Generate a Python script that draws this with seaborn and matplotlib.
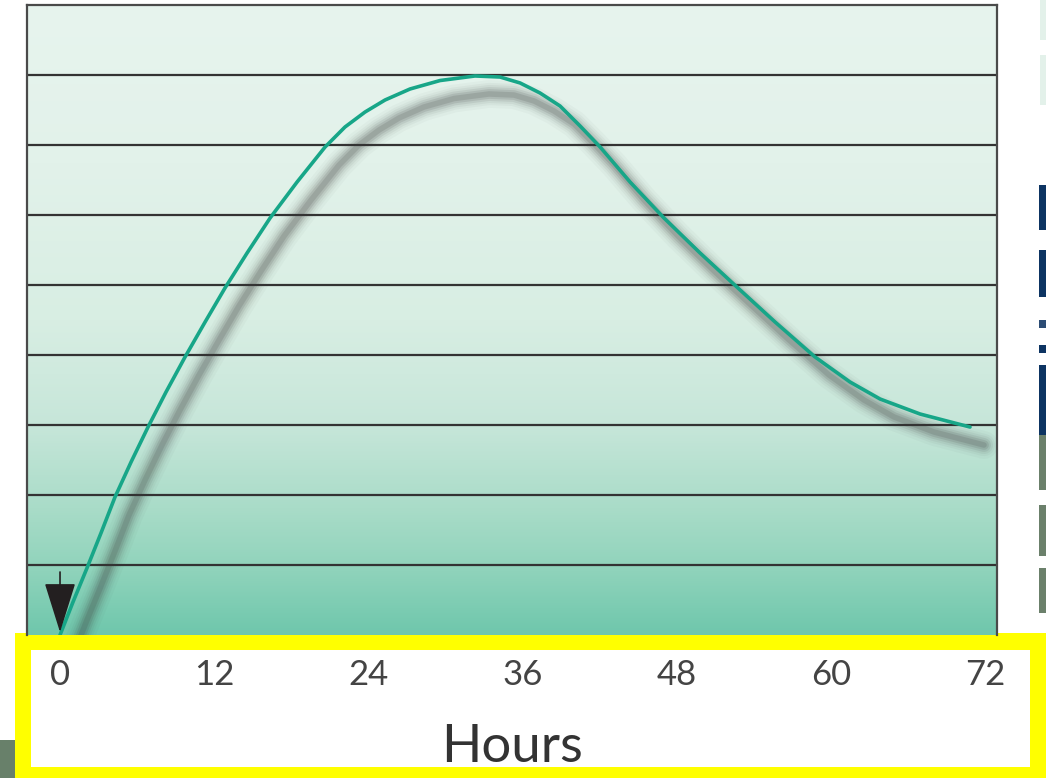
import numpy as np
import matplotlib
matplotlib.use("Agg")
import matplotlib.pyplot as plt
from matplotlib.colors import LinearSegmentedColormap
from matplotlib.patches import Rectangle
from matplotlib.transforms import ScaledTranslation
import seaborn as sns
import pandas as pd

# Concentration curve over time (hours, relative level)
hours = [0.0, 1.01, 2.10, 3.19, 4.28, 5.53, 6.85, 8.25, 9.73, 11.29, 12.84,
         14.56, 16.35, 18.45, 20.63, 22.18, 23.74, 25.30, 27.24, 29.58, 32.30,
         34.25, 35.81, 37.36, 38.92, 40.48, 42.04, 44.37, 47.01, 49.82, 52.77,
         55.66, 58.77, 61.49, 63.83, 66.94, 70.83]
level = [0.0, 0.471, 0.957, 1.457, 1.971, 2.471, 2.971, 3.471, 3.971, 4.471, 4.957,
         5.457, 5.957, 6.471, 6.971, 7.257, 7.471, 7.643, 7.800, 7.921, 7.986,
         7.971, 7.886, 7.743, 7.557, 7.271, 6.971, 6.471, 5.957, 5.457, 4.957,
         4.471, 3.971, 3.614, 3.371, 3.157, 2.971]
tick_hours = [0, 12, 24, 36, 48, 60, 72]
tick_labels = ["0", "12", "24", "36", "48", "60", "72"]
grid_levels = [1, 2, 3, 4, 5, 6, 7, 8]

df = pd.DataFrame({"Hours": hours, "Level": level})

sns.set_theme(style="white")
plt.rcParams["font.family"] = ["Lato", "DejaVu Sans"]

W, H = 1046, 778
fig = plt.figure(figsize=(W / 100, H / 100), dpi=100)
fig.patch.set_facecolor("white")

# Axis frame in pixel terms
left, right, top, bottom = 27, 997, 5, 635
ax = fig.add_axes([left / W, (H - bottom) / H, (right - left) / W, (bottom - top) / H])
ax.set_zorder(2)
ax.patch.set_alpha(0)

x0, x1 = -2.57, 72.93
ax.set_xlim(x0, x1)
ax.set_ylim(0, 9)

# Vertical gradient background
grad_cmap = LinearSegmentedColormap.from_list(
    "mint",
    [(0.0, "#6fc7ac"), (0.1, "#8fd3bb"), (0.2, "#a9dcc8"), (0.33, "#c6e6d9"),
     (0.5, "#d8eee3"), (0.75, "#e2f2ea"), (1.0, "#e7f4ee")])
ax.imshow(np.linspace(0, 1, 256).reshape(-1, 1), cmap=grad_cmap, origin="lower",
          aspect="auto", extent=[x0, x1, 0, 9], zorder=0)

for g in grid_levels:
    ax.axhline(g, color="#333333", lw=1.6, zorder=1)

# Soft drop shadow under the curve
shadow_tf = ax.transData + ScaledTranslation(0.14, -0.18, fig.dpi_scale_trans)
for lw, a in [(20, 0.03), (16, 0.045), (13, 0.06), (10, 0.09), (7, 0.12), (4, 0.15)]:
    sns.lineplot(data=df, x="Hours", y="Level", ax=ax, color="#3a3a3a",
                 lw=lw, alpha=a, sort=False, solid_capstyle="round",
                 solid_joinstyle="round", zorder=2)
    ax.lines[-1].set_transform(shadow_tf)

sns.lineplot(data=df, x="Hours", y="Level", ax=ax, color="#17a688", lw=2.6,
             sort=False, solid_joinstyle="round", zorder=3)

# Dosing marker at time zero
ax.annotate("", xy=(0, 0.04), xytext=(0, 0.9),
            arrowprops=dict(arrowstyle="-|>,head_length=1.6,head_width=0.5",
                            color="#231f20", lw=1.2, mutation_scale=20,
                            shrinkA=0, shrinkB=0), zorder=4)

ax.set_yticks([])
ax.set_xticks(tick_hours)
ax.set_xticklabels(tick_labels, fontsize=25, color="#444444")
ax.tick_params(axis="x", length=0, pad=17)
ax.set_xlabel("")
ax.set_ylabel("")
for s in ["left", "top", "right"]:
    ax.spines[s].set_color("#4a4a4a")
    ax.spines[s].set_linewidth(1.6)
ax.spines["bottom"].set_visible(False)

# Highlighted axis-label panel
def px_rect(x, y, w, h, color, z):
    fig.patches.append(Rectangle((x / W, (H - y - h) / H), w / W, h / H,
                                 transform=fig.transFigure, facecolor=color,
                                 edgecolor="none", zorder=z))

px_rect(15, 633, 1031, 145, "#ffff00", 0)
px_rect(31, 650, 999, 117, "white", 1)

# Neighbouring panel edges
for y, h, c in [(185, 45, "#0d3462"), (250, 47, "#0d3462"), (320, 8, "#2c4c74"),
                (345, 8, "#0d3462"), (365, 70, "#0d3462"), (435, 55, "#6b806b"),
                (505, 51, "#6b806b"), (568, 45, "#6b806b")]:
    px_rect(1039, y, 7, h, c, 0)
for y, h in [(0, 40), (55, 50)]:
    px_rect(1040, y, 6, h, "#e3f1ea", 0)
px_rect(0, 740, 15, 38, "#68806a", 0)

fig.text(512 / W, (H - 762) / H, "Hours", ha="center", va="baseline",
         fontsize=38, color="#333333", zorder=3)

fig.savefig("out.png", dpi=100)
